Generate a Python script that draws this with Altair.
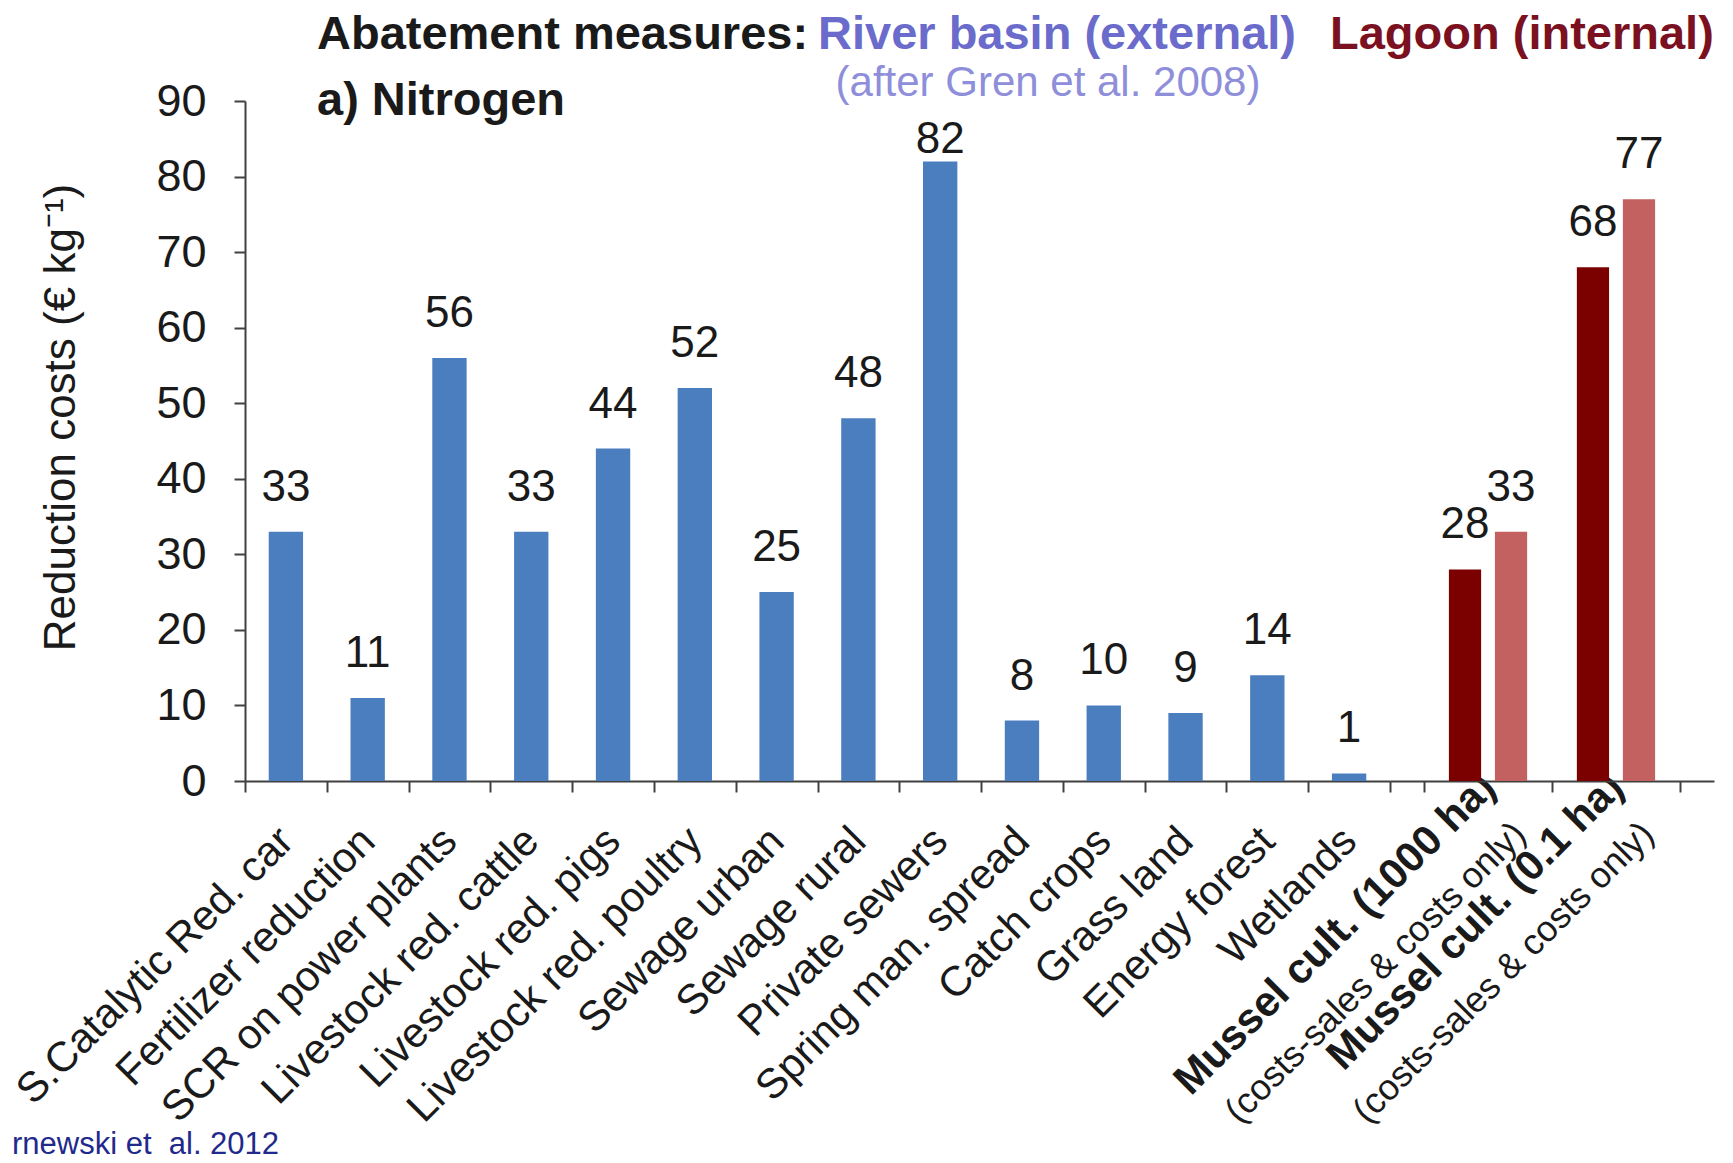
import altair as alt
import pandas as pd

# ---------------- data ----------------
categories = [
    "S.Catalytic Red. car", "Fertilizer reduction", "SCR on power plants",
    "Livestock red. cattle", "Livestock red. pigs", "Livestock red. poultry",
    "Sewage urban", "Sewage rural", "Private sewers", "Spring man. spread",
    "Catch crops", "Grass land", "Energy forest", "Wetlands",
]
values = [33, 11, 56, 33, 44, 52, 25, 48, 82, 8, 10, 9, 14, 1]

mussel_sites = ["Mussel cult. (1000 ha)", "Mussel cult. (0.1 ha)"]
mussel_basis = ["costs-sales", "costs only"]
mussel_values = [28, 33, 68, 77]          # site by site, basis order as above
mussel_note = "(costs-sales & costs only)"

y_ticks = [0, 10, 20, 30, 40, 50, 60, 70, 80, 90]

title_main = "Abatement measures:"
title_river = "River basin (external)"
title_lagoon = "Lagoon (internal)"
subtitle_river = "(after Gren et al. 2008)"
panel_label = "a) Nitrogen"
credit = "rnewski et\u00a0 al. 2012"
y_title = "Reduction costs (€ kg⁻¹)"

# ---------------- styles ----------------
FONT = "Liberation Sans"
BLUE = "#4A7EBF"
DARK = "#7B0000"
LIGHT = "#C2615F"
INK = "#1a1a1a"
H = 680
WL = 1145
WR = 324

river = pd.DataFrame({"measure": categories, "cost": values})
lagoon = pd.DataFrame({
    "site": [s for s in mussel_sites for _ in mussel_basis],
    "basis": mussel_basis * len(mussel_sites),
    "cost": mussel_values,
})

yscale = alt.Scale(domain=[0, 90])
axis_common = dict(domainColor="#404040", domainWidth=2, tickColor="#404040",
                   tickWidth=2, tickSize=11, labelColor=INK, labelFont=FONT,
                   labelOverlap=False, labelLimit=0, grid=False)

xl = alt.X("measure:N", sort=categories,
           scale=alt.Scale(paddingInner=0, paddingOuter=0),
           axis=alt.Axis(title=None, labelAngle=315, labelAlign="right",
                         labelBaseline="middle", labelFontSize=42,
                         labelPadding=42, tickBand="extent", **axis_common))
yl = alt.Y("cost:Q", scale=yscale,
           axis=alt.Axis(values=y_ticks, title=y_title, titleFontSize=44,
                         titleFontWeight="normal", titleFont=FONT, titleColor=INK,
                         titleAngle=270, titleX=-184, titleY=316,
                         titleAlign="center", titleBaseline="middle",
                         labelFontSize=45, labelPadding=28, **axis_common))

bars_l = alt.Chart(river).mark_bar(color=BLUE, width=alt.RelativeBandSize(0.42)).encode(x=xl, y=yl)
# the label above the tallest bar sits a little lower, clear of the subtitle
vals_l = alt.Chart(river).transform_calculate(
    label_pos="datum.cost > 80 ? datum.cost - 3 : datum.cost"
).mark_text(fontSize=44, color=INK, dy=-31, baseline="alphabetic").encode(
    x=alt.X("measure:N", sort=categories),
    y=alt.Y("label_pos:Q", scale=yscale), text="cost:Q")


def note(txt, x, y, size, color, weight="normal", align="left"):
    return alt.Chart(pd.DataFrame({"t": [txt]})).mark_text(
        fontSize=size, fontWeight=weight, color=color, align=align, baseline="middle"
    ).encode(text="t:N", x=alt.value(x), y=alt.value(y))


notes = [
    note(title_main, 72, -66, 47, INK, "bold"),
    note(title_river, 573, -66, 47, "#6B6BCB", "bold"),
    note(title_lagoon, 1085, -66, 47, "#7A1020", "bold"),
    note(subtitle_river, 803, -18, 42, "#8E8EDA", align="center"),
    note(panel_label, 72, 0, 47, INK, "bold"),
    note(credit, -233, 1044, 31, "#1F2A8C"),
]

left = alt.layer(bars_l, vals_l, *notes).properties(width=WL, height=H)

xr = alt.X("site:N", sort=mussel_sites,
           scale=alt.Scale(paddingInner=0, paddingOuter=0.266),
           axis=alt.Axis(title=None, labelAngle=315, labelAlign="right",
                         labelBaseline="middle", labelFontSize=42,
                         labelFontWeight="bold", labelPadding=-12,
                         tickBand="extent", **axis_common))
xo = alt.XOffset("basis:N", sort=mussel_basis,
                 scale=alt.Scale(paddingInner=0.3, paddingOuter=0.54))
col = alt.Color("basis:N", sort=mussel_basis,
                scale=alt.Scale(domain=mussel_basis, range=[DARK, LIGHT]), legend=None)

bars_r = alt.Chart(lagoon).mark_bar().encode(
    x=xr, xOffset=xo, y=alt.Y("cost:Q", scale=yscale, axis=None), color=col)
vals_r = alt.Chart(lagoon).mark_text(fontSize=44, color=INK, dy=-31, baseline="alphabetic").encode(
    x=alt.X("site:N", sort=mussel_sites,
            axis=alt.Axis(title=None, orient="bottom", domain=False, ticks=False,
                          labelAngle=315, labelAlign="right", labelBaseline="middle",
                          labelFontSize=36, labelPadding=47, labelOffset=32,
                          labelExpr="'" + mussel_note + "'", labelColor=INK,
                          labelFont=FONT, labelOverlap=False, labelLimit=0, grid=False)),
    xOffset=xo, y=alt.Y("cost:Q", scale=yscale, axis=None), text="cost:Q")

right = alt.layer(bars_r, vals_r).resolve_axis(x="independent").properties(width=WR, height=H)

chart = alt.hconcat(left, right, spacing=0, bounds="flush").properties(
    padding={"left": 0, "top": 3, "right": 5, "bottom": 5}
).configure(font=FONT).configure_view(stroke=None)

chart.save("out.html", embed_options={"renderer": "svg", "actions": False})
